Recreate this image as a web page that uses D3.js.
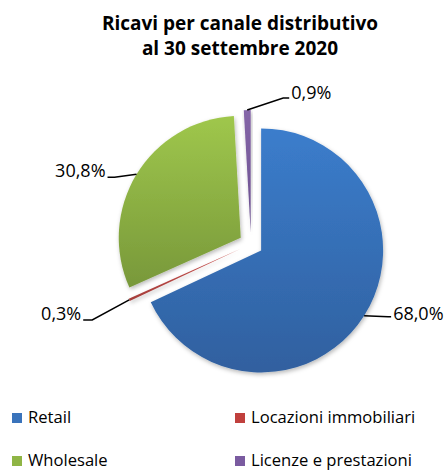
<!DOCTYPE html>
<html><head><meta charset="utf-8">
<script src="https://cdn.jsdelivr.net/npm/d3@7"></script>
<style>body{margin:0;background:#fff}</style>
</head><body>
<svg id="chart" width="445" height="470"></svg>
<script>
// ---- data ----
const categories = ["Retail", "Locazioni immobiliari", "Wholesale", "Licenze e prestazioni"];
const values = [68.0, 0.3, 30.8, 0.9];
const titleLines = ["Ricavi per canale distributivo", "al 30 settembre 2020"];

// ---- styles / layout ----
const colorsTop = ["#3b7dcc", "#c9514e", "#9fc74c", "#8566a8"];
const colorsBot = ["#30609f", "#a43d3a", "#78983a", "#6a4f8e"];
const legendColors = ["#3a73bb", "#c0403d", "#8fb545", "#7a5ba0"];
const FONT = "'Open Sans', sans-serif";
const cx = 251, cy = 244, R = 122, explode = 12;
// label leader layout: offset of elbow from slice's outer midpoint, tail direction, baseline shift
const labelLayout = [
  {dx: 24, dy: 1, tail: 3, side: 1, by: 3},
  {dx: -37, dy: 20, tail: 9, side: -1, by: 0},
  {dx: -22, dy: 3, tail: 7, side: -1, by: 0},
  {dx: 36, dy: -12, tail: 6, side: 1, by: 1}
];

const svg = d3.select("#chart");
const defs = svg.append("defs");
colorsTop.forEach((c, i) => {
  const g = defs.append("linearGradient").attr("id", "g" + i)
    .attr("x1", 0).attr("y1", 0).attr("x2", 0).attr("y2", 1);
  g.append("stop").attr("offset", "0%").attr("stop-color", c);
  g.append("stop").attr("offset", "100%").attr("stop-color", colorsBot[i]);
});
const f = defs.append("filter").attr("id", "sh").attr("x", "-20%").attr("y", "-20%").attr("width", "140%").attr("height", "140%");
f.append("feDropShadow").attr("dx", 1).attr("dy", 2).attr("stdDeviation", 2)
  .attr("flood-color", "#000").attr("flood-opacity", 0.28);

// title
svg.append("g").selectAll("text").data(titleLines).join("text")
  .attr("x", 240).attr("y", (d, i) => 30 + i * 25)
  .attr("text-anchor", "middle")
  .attr("font-family", FONT).attr("font-weight", "bold").attr("font-size", 19)
  .attr("fill", "#000").text(d => d);

// pie
const pie = d3.pie().sort(null).value(d => d)(values);
const arc = d3.arc().innerRadius(0).outerRadius(R);
const gPie = svg.append("g").attr("transform", `translate(${cx},${cy})`);
const off = d => { const a = (d.startAngle + d.endAngle) / 2; return [Math.sin(a) * explode, -Math.cos(a) * explode]; };

gPie.selectAll("path").data(pie).join("path")
  .attr("transform", d => `translate(${off(d)})`)
  .attr("d", arc)
  .attr("fill", (d, i) => `url(#g${i})`)
  .attr("filter", "url(#sh)");

// labels with leaders
const fmt = v => v.toFixed(1).replace(".", ",") + "%";
pie.forEach((d, i) => {
  const a = (d.startAngle + d.endAngle) / 2;
  const o = off(d);
  const p = [o[0] + Math.sin(a) * R, o[1] - Math.cos(a) * R];
  const L = labelLayout[i];
  const e = [p[0] + L.dx, p[1] + L.dy];
  const t = [e[0] + L.side * L.tail, e[1]];
  gPie.append("polyline")
    .attr("points", [p, e, t].map(q => q.join(",")).join(" "))
    .attr("fill", "none").attr("stroke", "#000").attr("stroke-width", 1.5);
  gPie.append("text")
    .attr("x", t[0] + L.side * 2).attr("y", t[1] + L.by)
    .attr("text-anchor", L.side > 0 ? "start" : "end")
    .attr("font-family", FONT).attr("font-size", 18).attr("fill", "#000")
    .text(fmt(values[i]));
});

// legend
const lg = svg.append("g").selectAll("g").data(categories).join("g")
  .attr("transform", (d, i) => `translate(${12 + (i % 2) * 223},${413 + Math.floor(i / 2) * 43})`);
lg.append("rect").attr("width", 10).attr("height", 10).attr("fill", (d, i) => legendColors[i]);
lg.append("text").attr("x", 16).attr("y", 10)
  .attr("font-family", FONT).attr("font-size", 16.6).attr("fill", "#000").text(d => d);
</script>
</body></html>
